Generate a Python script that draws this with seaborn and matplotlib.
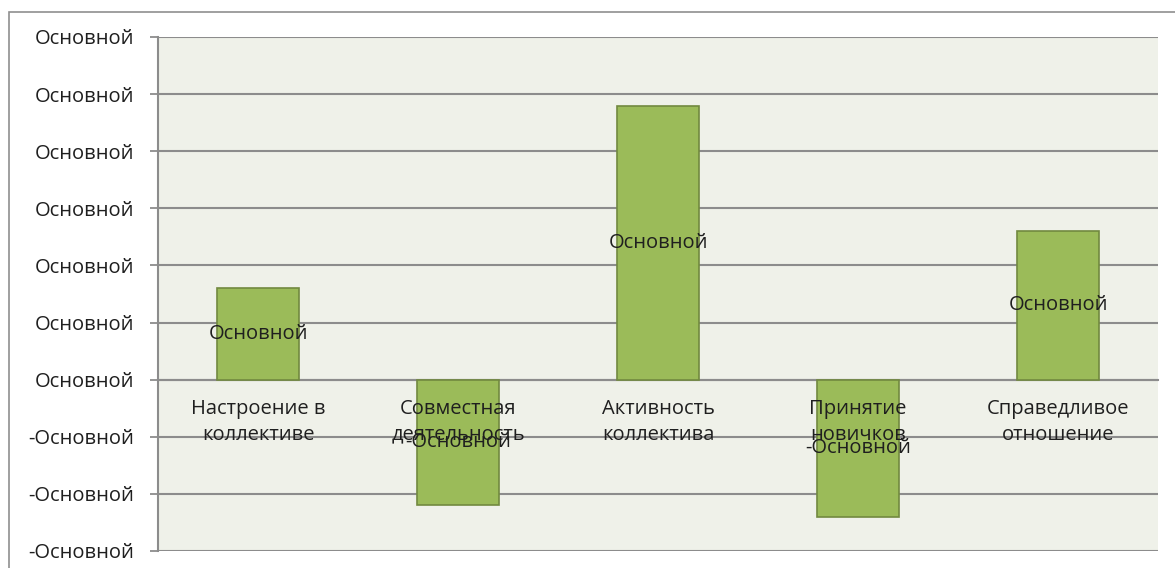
import numpy as np
import matplotlib
matplotlib.use('Agg')
import matplotlib.pyplot as plt
import seaborn as sns
from matplotlib.patches import Rectangle

categories = ["Настроение в\nколлективе", "Совместная\nдеятельность",
              "Активность\nколлектива", "Принятие\nновичков",
              "Справедливое\nотношение"]
values = [1.6, -2.2, 4.8, -2.4, 2.6]
y_ticks = [-3, -2, -1, 0, 1, 2, 3, 4, 5, 6]
tick_word = "Основной"

sns.set_theme(style="white")
plt.rcParams['font.family'] = ['Open Sans', 'DejaVu Sans']

fig = plt.figure(figsize=(11.75, 5.68), dpi=100)
ax = fig.add_axes([158 / 1175, 17 / 568, 1000 / 1175, 514 / 568])
ax.set_facecolor("#EFF1E9")

# outer chart frame (cropped screenshot)
fig.patches.append(Rectangle((9 / 1175, -0.2), 1.2, (568 - 12) / 568 + 0.2,
                             transform=fig.transFigure, fill=False,
                             edgecolor="#8F8F8F", linewidth=1.2, zorder=0))

sns.barplot(x=list(range(len(values))), y=values, color="#9BBB59",
            width=0.41, saturation=1, edgecolor="#71893F", linewidth=1.2,
            ax=ax, native_scale=True, zorder=3)

ax.set_xlim(-0.5, len(values) - 0.5)
ax.set_ylim(y_ticks[0], y_ticks[-1])
ax.set_yticks(y_ticks)
ax.set_yticklabels([("-" if t < 0 else "") + tick_word for t in y_ticks],
                   fontsize=14.5, color="#1F1F1F")
ax.yaxis.grid(True, color="#8C8C8C", linewidth=1.5)
ax.set_axisbelow(True)

for s in ["top", "right"]:
    ax.spines[s].set_visible(False)
ax.spines["left"].set_color("#8C8C8C")
ax.spines["left"].set_linewidth(1.5)
ax.spines["bottom"].set_position(("data", 0))
ax.spines["bottom"].set_color("#8C8C8C")
ax.spines["bottom"].set_linewidth(1.5)

ax.set_xticks(np.arange(-0.5, len(values), 1.0))
ax.set_xticklabels([])
ax.tick_params(axis="x", direction="out", length=5, width=1.3, color="#8C8C8C")
ax.tick_params(axis="y", left=True, direction="out", length=6, width=1.3,
               color="#8C8C8C", pad=11)
ax.set_xlabel("")
ax.set_ylabel("")

# category names sit just under the zero line, like the original Excel chart
for i, cat in enumerate(categories):
    ax.annotate(cat, xy=(i, 0), xytext=(0, -14), textcoords="offset points",
                ha="center", va="top", fontsize=14.5, color="#1F1F1F",
                linespacing=1.38, zorder=5)

for i, v in enumerate(values):
    ax.text(i, v / 2, ("-" if v < 0 else "") + tick_word, ha="center",
            va="center", fontsize=14.5, color="#1F1F1F", zorder=5)

fig.savefig("out.png", dpi=100, facecolor="white")
